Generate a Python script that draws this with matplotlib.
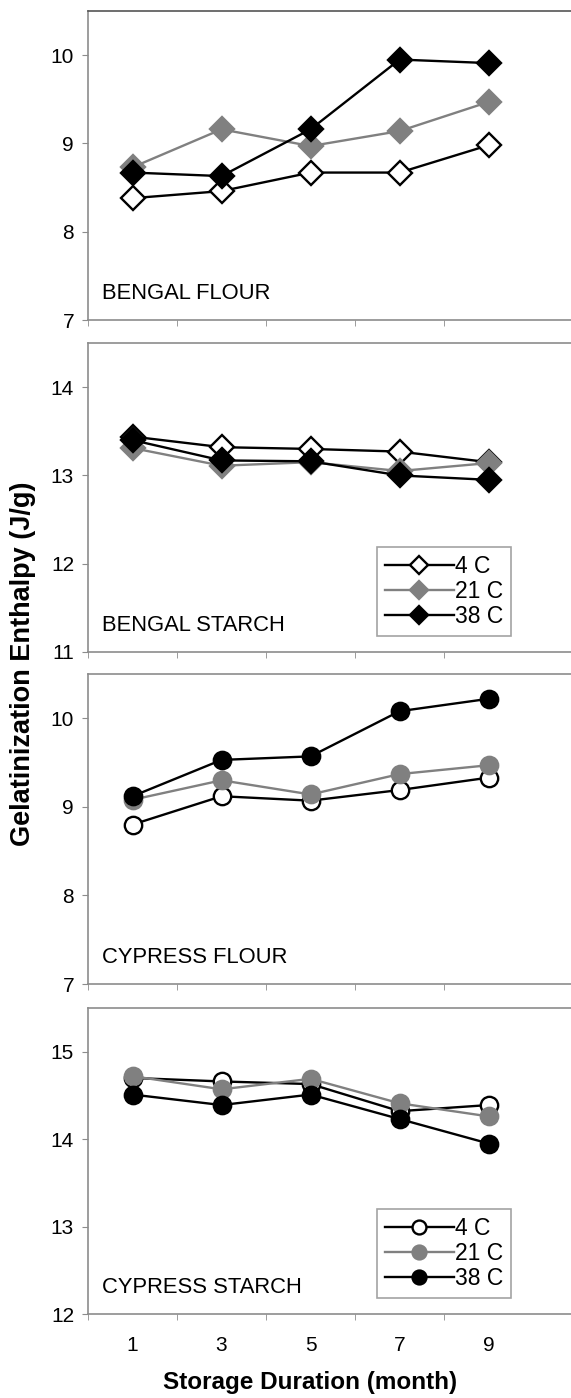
import numpy as np
import matplotlib.pyplot as plt
from matplotlib.ticker import FixedLocator

plt.rcParams['font.family'] = ['Liberation Sans', 'DejaVu Sans']

months = [1, 3, 5, 7, 9]
temps = ['4 C', '21 C', '38 C']

bengal_flour_4 = [8.38, 8.46, 8.67, 8.67, 8.98]
bengal_flour_21 = [8.73, 9.16, 8.97, 9.14, 9.47]
bengal_flour_38 = [8.67, 8.63, 9.16, 9.95, 9.91]

bengal_starch_4 = [13.44, 13.32, 13.30, 13.27, 13.15]
bengal_starch_21 = [13.31, 13.11, 13.15, 13.05, 13.14]
bengal_starch_38 = [13.40, 13.17, 13.16, 13.00, 12.95]

cypress_flour_4 = [8.80, 9.12, 9.07, 9.19, 9.33]
cypress_flour_21 = [9.08, 9.30, 9.14, 9.37, 9.47]
cypress_flour_38 = [9.12, 9.53, 9.57, 10.08, 10.22]

cypress_starch_4 = [14.70, 14.66, 14.63, 14.32, 14.39]
cypress_starch_21 = [14.72, 14.57, 14.69, 14.41, 14.26]
cypress_starch_38 = [14.51, 14.39, 14.51, 14.23, 13.95]

panels = ['BENGAL FLOUR', 'BENGAL STARCH', 'CYPRESS FLOUR', 'CYPRESS STARCH']
series = [
    [bengal_flour_4, bengal_flour_21, bengal_flour_38],
    [bengal_starch_4, bengal_starch_21, bengal_starch_38],
    [cypress_flour_4, cypress_flour_21, cypress_flour_38],
    [cypress_starch_4, cypress_starch_21, cypress_starch_38],
]
ylims = [(7, 10.5), (11, 14.5), (7, 10.5), (12, 15.5)]
markers = ['D', 'D', 'o', 'o']

W, H = 571, 1398
fig = plt.figure(figsize=(W / 100, H / 100), dpi=100)

# pixel boxes (top, bottom) of each plot area
boxes = [(11, 320), (343, 652), (674, 984), (1008, 1314)]
left, right = 88, 571

spine_col = '#8c8c8c'
line_cols = ['black', '#808080', 'black']
face_cols = ['white', '#808080', 'black']

for i in range(4):
    top, bot = boxes[i]
    ax = fig.add_axes([left / W, 1 - bot / H, (right - left) / W, (bot - top) / H])
    mk = markers[i]
    ms = 12 if mk == 'D' else 12.5
    handles = []
    for j in range(3):
        h, = ax.plot(months, series[i][j], color=line_cols[j], lw=1.7,
                     marker=mk, ms=ms, mfc=face_cols[j], mec=line_cols[j],
                     mew=1.7, label=temps[j], zorder=3 + j)
        handles.append(h)
    ax.set_xlim(0, 10.85)
    ax.set_ylim(*ylims[i])
    ax.set_yticks(np.arange(ylims[i][0], ylims[i][1], 1))
    ax.set_xticks(months)
    ax.xaxis.set_minor_locator(FixedLocator([0, 2, 4, 6, 8]))
    ax.tick_params(axis='x', which='major', length=0, pad=16, labelsize=15)
    ax.tick_params(axis='x', which='minor', length=4, direction='out', color=spine_col)
    ax.tick_params(axis='y', length=4, direction='out', color=spine_col, pad=6, labelsize=15)
    if i < 3:
        ax.set_xticklabels([])
    for s in ['top', 'left', 'bottom']:
        ax.spines[s].set_color(spine_col)
        ax.spines[s].set_linewidth(1.2)
    if i == 0:
        ax.spines['top'].set_color('#555555')
    ax.spines['right'].set_visible(False)
    ax.text(0.03, 0.068, panels[i], transform=ax.transAxes, fontsize=15.8,
            ha='left', va='baseline')
    if i in (1, 3):
        leg = ax.legend(handles=handles, loc='lower left', bbox_to_anchor=(0.598, 0.052),
                        borderaxespad=0, fontsize=16.5, frameon=True, fancybox=False,
                        edgecolor=spine_col, handlelength=3.0, handletextpad=0.05,
                        labelspacing=0.08, borderpad=0.35, markerscale=0.8)
        leg.get_frame().set_linewidth(1.2)

fig.text(23 / W, 1 - 664 / H, 'Gelatinization Enthalpy (J/g)', rotation=90,
         fontsize=19.5, fontweight='bold', ha='center', va='center')
fig.text(310 / W, 1 - 1383 / H, 'Storage Duration (month)', fontsize=17.5,
         fontweight='bold', ha='center', va='center')

fig.savefig('out.png', dpi=100)
